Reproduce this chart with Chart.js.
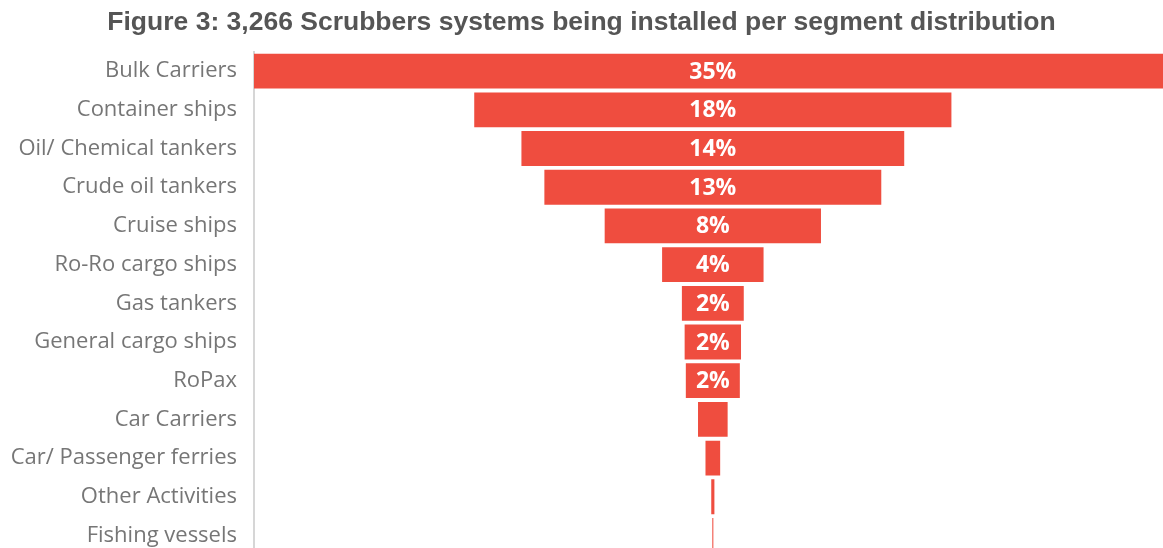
<!DOCTYPE html>
<html>
<head>
<meta charset="utf-8">
<script src="https://cdn.jsdelivr.net/npm/chart.js@4"></script>
<style>
  html, body { margin: 0; padding: 0; background: #fff; overflow: hidden; }
  #wrap { width: 1163px; height: 585px; }
</style>
</head>
<body>
<div id="wrap"><canvas id="funnelChart"></canvas></div>
<script>
  const segments = ['Bulk Carriers', 'Container ships', 'Oil/ Chemical tankers', 'Crude oil tankers',
    'Cruise ships', 'Ro-Ro cargo ships', 'Gas tankers', 'General cargo ships', 'RoPax',
    'Car Carriers', 'Car/ Passenger ferries', 'Other Activities', 'Fishing vessels'];
  const shares = [35, 18.2, 14.6, 12.85, 8.25, 3.87, 2.36, 2.15, 2.06, 1.13, 0.56, 0.12, 0.04];
  const shareLabels = ['35%', '18%', '14%', '13%', '8%', '4%', '2%', '2%', '2%', '', '', '', ''];

  // funnel: each bar floats symmetrically around zero
  const funnelData = shares.map(v => [-v / 2, v / 2]);

  const barText = {
    id: 'barText',
    afterDatasetsDraw(chart) {
      const { ctx } = chart;
      const meta = chart.getDatasetMeta(0);
      const cx = chart.scales.x.getPixelForValue(0);
      ctx.save();
      ctx.fillStyle = '#ffffff';
      ctx.font = 'bold 23px "Open Sans", sans-serif';
      ctx.textAlign = 'center';
      ctx.textBaseline = 'middle';
      meta.data.forEach((bar, i) => {
        if (!shareLabels[i]) return;
        ctx.fillText(shareLabels[i], cx, bar.y + 1);
      });
      ctx.restore();
    }
  };

  const ctx = document.getElementById('funnelChart').getContext('2d');

  new Chart(ctx, {
    type: 'bar',
    data: {
      labels: segments,
      datasets: [{
        data: funnelData,
        backgroundColor: '#ef4d3f',
        borderWidth: 0,
        barPercentage: 0.9,
        categoryPercentage: 1.0
      }]
    },
    options: {
      indexAxis: 'y',
      responsive: true,
      maintainAspectRatio: false,
      animation: false,
      layout: { padding: { top: 0, right: 0, bottom: 3, left: 0 } },
      plugins: {
        legend: { display: false },
        tooltip: { enabled: false },
        title: {
          display: true,
          text: 'Figure 3: 3,266 Scrubbers systems being installed per segment distribution',
          color: '#555555',
          font: { family: '"Liberation Sans", Arial, sans-serif', size: 26.5, weight: 'bold', lineHeight: 1.2 },
          padding: { top: 7, bottom: 13 }
        }
      },
      scales: {
        x: {
          display: false,
          min: -17.5,
          max: 17.17
        },
        y: {
          afterFit: (scale) => { scale.width = 254; },
          grid: { display: false, drawTicks: false },
          border: { display: true, color: '#d6d6d6', width: 2 },
          ticks: {
            color: '#767676',
            padding: 17,
            font: { family: '"Open Sans", sans-serif', size: 22 }
          }
        }
      }
    },
    plugins: [barText]
  });
</script>
</body>
</html>
